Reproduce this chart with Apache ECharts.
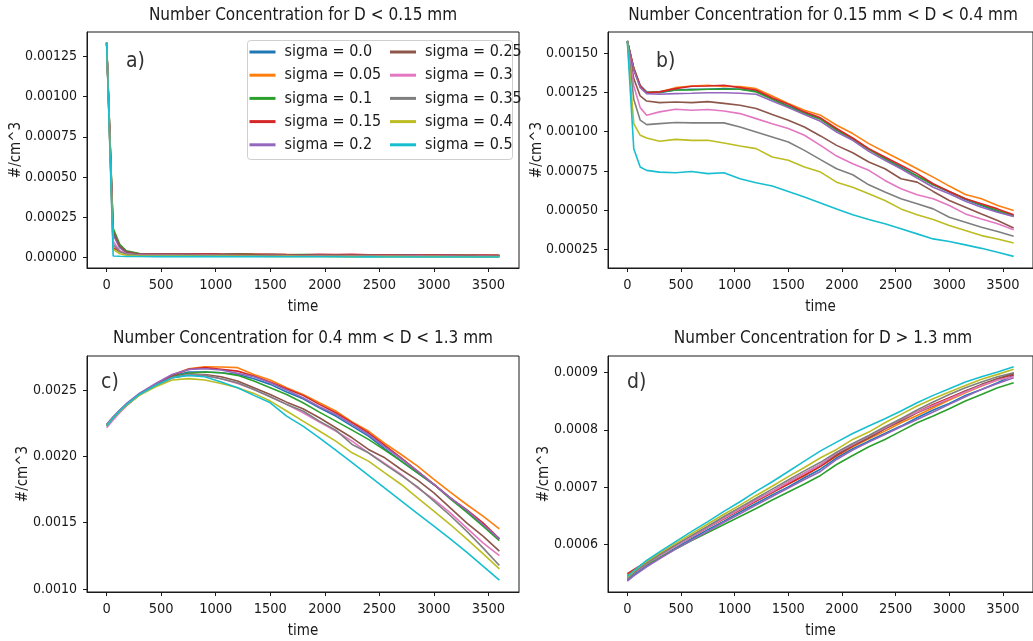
<!DOCTYPE html>
<html>
<head>
<meta charset="utf-8">
<script src="https://cdn.jsdelivr.net/npm/echarts@6/dist/echarts.min.js"></script>
<style>
  html, body { margin: 0; padding: 0; background: #fff; }
  #chart { width: 1033px; height: 641px; }
</style>
</head>
<body>
<div id="chart"></div>
<script>
// Time axis (s) shared by all four panels
const TIME = [0, 60, 120, 180, 300, 450, 600, 750, 900, 1050, 1200, 1350, 1500, 1650, 1800,
  1950, 2100, 2250, 2400, 2550, 2700, 2850, 3000, 3150, 3300, 3450, 3600];

const SIGMA_LABELS = ['sigma = 0.0', 'sigma = 0.05', 'sigma = 0.1', 'sigma = 0.15', 'sigma = 0.2',
  'sigma = 0.25', 'sigma = 0.3', 'sigma = 0.35', 'sigma = 0.4', 'sigma = 0.5'];

const TIME_TICKS = [0, 500, 1000, 1500, 2000, 2500, 3000, 3500];
const TICKS_A = [0, 0.00025, 0.0005, 0.00075, 0.001, 0.00125];
const TICKS_B = [0.00025, 0.0005, 0.00075, 0.001, 0.00125, 0.0015];
const TICKS_C = [0.001, 0.0015, 0.002, 0.0025];
const TICKS_D = [0.0006, 0.0007, 0.0008, 0.0009];

// Panel a) D < 0.15 mm
const a00 = [1.335e-3, 1.5e-4, 6.0e-5, 3.0e-5, 2.0e-5, 2.2e-5, 1.8e-5, 2.0e-5, 1.9e-5, 1.7e-5, 1.8e-5, 1.6e-5, 1.7e-5, 1.5e-5, 1.6e-5, 1.4e-5, 1.5e-5, 1.3e-5, 1.4e-5, 1.3e-5, 1.2e-5, 1.3e-5, 1.2e-5, 1.1e-5, 1.2e-5, 1.1e-5, 1.0e-5];
const a05 = [1.335e-3, 1.7e-4, 7.0e-5, 3.5e-5, 2.2e-5, 2.0e-5, 2.1e-5, 1.9e-5, 2.0e-5, 1.8e-5, 1.7e-5, 1.8e-5, 1.6e-5, 1.7e-5, 1.5e-5, 1.6e-5, 1.4e-5, 1.5e-5, 1.3e-5, 1.4e-5, 1.3e-5, 1.2e-5, 1.3e-5, 1.2e-5, 1.1e-5, 1.2e-5, 1.1e-5];
const a10 = [1.335e-3, 1.8e-4, 8.0e-5, 4.0e-5, 2.3e-5, 2.1e-5, 1.9e-5, 2.0e-5, 1.8e-5, 1.9e-5, 2.1e-5, 1.8e-5, 1.7e-5, 1.6e-5, 1.7e-5, 1.5e-5, 1.6e-5, 1.4e-5, 1.5e-5, 1.4e-5, 1.3e-5, 1.2e-5, 1.3e-5, 1.2e-5, 1.1e-5, 1.1e-5, 1.0e-5];
const a15 = [1.335e-3, 6.0e-5, 3.5e-5, 2.5e-5, 2.0e-5, 2.2e-5, 2.0e-5, 2.1e-5, 2.2e-5, 2.0e-5, 1.9e-5, 1.8e-5, 1.9e-5, 1.7e-5, 1.6e-5, 1.8e-5, 1.7e-5, 1.9e-5, 1.6e-5, 1.5e-5, 1.6e-5, 1.4e-5, 1.5e-5, 1.4e-5, 1.3e-5, 1.4e-5, 1.3e-5];
const a20 = [1.335e-3, 1.4e-4, 6.0e-5, 3.0e-5, 1.8e-5, 1.9e-5, 1.7e-5, 1.8e-5, 1.6e-5, 1.7e-5, 1.5e-5, 1.6e-5, 1.4e-5, 1.5e-5, 1.3e-5, 1.4e-5, 1.2e-5, 1.3e-5, 1.2e-5, 1.1e-5, 1.2e-5, 1.0e-5, 1.1e-5, 1.0e-5, 0.9e-5, 1.0e-5, 0.9e-5];
const a25 = [1.335e-3, 1.6e-4, 7.0e-5, 3.5e-5, 2.0e-5, 1.8e-5, 1.9e-5, 1.7e-5, 1.8e-5, 1.6e-5, 1.7e-5, 1.5e-5, 1.6e-5, 1.4e-5, 1.5e-5, 1.3e-5, 1.4e-5, 1.2e-5, 1.3e-5, 1.1e-5, 1.2e-5, 1.1e-5, 1.0e-5, 1.1e-5, 1.0e-5, 0.9e-5, 0.9e-5];
const a30 = [1.335e-3, 1.0e-4, 4.0e-5, 2.2e-5, 1.4e-5, 1.2e-5, 1.3e-5, 1.1e-5, 1.2e-5, 1.0e-5, 1.1e-5, 0.9e-5, 1.0e-5, 0.9e-5, 0.8e-5, 0.9e-5, 0.8e-5, 0.7e-5, 0.8e-5, 0.7e-5, 0.6e-5, 0.7e-5, 0.6e-5, 0.6e-5, 0.5e-5, 0.6e-5, 0.5e-5];
const a35 = [1.335e-3, 8.0e-5, 3.5e-5, 2.0e-5, 1.2e-5, 1.1e-5, 1.0e-5, 1.1e-5, 0.9e-5, 1.0e-5, 0.9e-5, 0.8e-5, 0.9e-5, 0.8e-5, 0.7e-5, 0.8e-5, 0.7e-5, 0.6e-5, 0.7e-5, 0.6e-5, 0.6e-5, 0.5e-5, 0.6e-5, 0.5e-5, 0.5e-5, 0.4e-5, 0.5e-5];
const a40 = [1.335e-3, 5.0e-5, 2.2e-5, 1.2e-5, 0.8e-5, 0.7e-5, 0.8e-5, 0.7e-5, 0.6e-5, 0.7e-5, 0.6e-5, 0.6e-5, 0.5e-5, 0.6e-5, 0.5e-5, 0.5e-5, 0.4e-5, 0.5e-5, 0.4e-5, 0.4e-5, 0.4e-5, 0.3e-5, 0.4e-5, 0.3e-5, 0.3e-5, 0.3e-5, 0.3e-5];
const a50 = [1.335e-3, 0.8e-5, 0.6e-5, 0.5e-5, 0.5e-5, 0.4e-5, 0.5e-5, 0.4e-5, 0.4e-5, 0.4e-5, 0.3e-5, 0.4e-5, 0.3e-5, 0.3e-5, 0.3e-5, 0.3e-5, 0.3e-5, 0.2e-5, 0.3e-5, 0.2e-5, 0.2e-5, 0.2e-5, 0.2e-5, 0.2e-5, 0.2e-5, 0.2e-5, 0.2e-5];

// Panel b) 0.15 mm < D < 0.4 mm
const b00 = [1.577e-3, 1.406e-3, 1.295e-3, 1.253e-3, 1.248e-3, 1.265e-3, 1.270e-3, 1.270e-3, 1.274e-3, 1.270e-3, 1.259e-3, 1.210e-3, 1.163e-3, 1.122e-3, 1.083e-3, 1.015e-3, 0.956e-3, 0.888e-3, 0.832e-3, 0.775e-3, 0.718e-3, 0.662e-3, 0.616e-3, 0.569e-3, 0.531e-3, 0.492e-3, 0.463e-3];
const b05 = [1.577e-3, 1.402e-3, 1.291e-3, 1.248e-3, 1.253e-3, 1.280e-3, 1.291e-3, 1.295e-3, 1.287e-3, 1.287e-3, 1.274e-3, 1.227e-3, 1.180e-3, 1.136e-3, 1.105e-3, 1.041e-3, 0.988e-3, 0.924e-3, 0.871e-3, 0.818e-3, 0.764e-3, 0.711e-3, 0.654e-3, 0.601e-3, 0.573e-3, 0.531e-3, 0.499e-3];
const b10 = [1.577e-3, 1.398e-3, 1.287e-3, 1.248e-3, 1.253e-3, 1.265e-3, 1.265e-3, 1.270e-3, 1.270e-3, 1.270e-3, 1.253e-3, 1.206e-3, 1.159e-3, 1.115e-3, 1.079e-3, 1.009e-3, 0.951e-3, 0.888e-3, 0.828e-3, 0.769e-3, 0.718e-3, 0.662e-3, 0.620e-3, 0.573e-3, 0.535e-3, 0.499e-3, 0.467e-3];
const b15 = [1.577e-3, 1.402e-3, 1.291e-3, 1.248e-3, 1.253e-3, 1.274e-3, 1.289e-3, 1.291e-3, 1.295e-3, 1.280e-3, 1.265e-3, 1.216e-3, 1.174e-3, 1.126e-3, 1.088e-3, 1.020e-3, 0.960e-3, 0.892e-3, 0.839e-3, 0.786e-3, 0.733e-3, 0.669e-3, 0.620e-3, 0.573e-3, 0.541e-3, 0.509e-3, 0.471e-3];
const b20 = [1.577e-3, 1.392e-3, 1.280e-3, 1.242e-3, 1.238e-3, 1.242e-3, 1.244e-3, 1.248e-3, 1.248e-3, 1.244e-3, 1.238e-3, 1.195e-3, 1.153e-3, 1.109e-3, 1.066e-3, 0.998e-3, 0.945e-3, 0.875e-3, 0.818e-3, 0.764e-3, 0.705e-3, 0.647e-3, 0.605e-3, 0.558e-3, 0.520e-3, 0.488e-3, 0.460e-3];
const b25 = [1.577e-3, 1.338e-3, 1.227e-3, 1.195e-3, 1.185e-3, 1.189e-3, 1.185e-3, 1.191e-3, 1.180e-3, 1.168e-3, 1.147e-3, 1.109e-3, 1.073e-3, 1.030e-3, 0.973e-3, 0.913e-3, 0.866e-3, 0.807e-3, 0.764e-3, 0.701e-3, 0.679e-3, 0.620e-3, 0.562e-3, 0.520e-3, 0.477e-3, 0.435e-3, 0.388e-3];
const b30 = [1.577e-3, 1.291e-3, 1.153e-3, 1.105e-3, 1.126e-3, 1.143e-3, 1.136e-3, 1.141e-3, 1.132e-3, 1.115e-3, 1.083e-3, 1.051e-3, 1.020e-3, 0.977e-3, 0.913e-3, 0.845e-3, 0.796e-3, 0.754e-3, 0.690e-3, 0.637e-3, 0.599e-3, 0.573e-3, 0.531e-3, 0.477e-3, 0.445e-3, 0.414e-3, 0.377e-3];
const b35 = [1.577e-3, 1.206e-3, 1.073e-3, 1.045e-3, 1.051e-3, 1.058e-3, 1.056e-3, 1.056e-3, 1.056e-3, 1.030e-3, 0.998e-3, 0.966e-3, 0.934e-3, 0.881e-3, 0.822e-3, 0.764e-3, 0.726e-3, 0.662e-3, 0.616e-3, 0.573e-3, 0.541e-3, 0.509e-3, 0.456e-3, 0.424e-3, 0.392e-3, 0.365e-3, 0.335e-3];
const b40 = [1.577e-3, 1.051e-3, 0.977e-3, 0.960e-3, 0.939e-3, 0.951e-3, 0.945e-3, 0.945e-3, 0.928e-3, 0.909e-3, 0.892e-3, 0.839e-3, 0.818e-3, 0.775e-3, 0.743e-3, 0.679e-3, 0.647e-3, 0.605e-3, 0.562e-3, 0.509e-3, 0.471e-3, 0.441e-3, 0.403e-3, 0.371e-3, 0.339e-3, 0.318e-3, 0.292e-3];
const b50 = [1.577e-3, 0.892e-3, 0.775e-3, 0.754e-3, 0.743e-3, 0.739e-3, 0.747e-3, 0.733e-3, 0.739e-3, 0.701e-3, 0.675e-3, 0.654e-3, 0.620e-3, 0.584e-3, 0.547e-3, 0.509e-3, 0.471e-3, 0.441e-3, 0.414e-3, 0.382e-3, 0.350e-3, 0.318e-3, 0.301e-3, 0.280e-3, 0.258e-3, 0.233e-3, 0.207e-3];

// Panel c) 0.4 mm < D < 1.3 mm
const c00 = [2.241e-3, 2.296e-3, 2.347e-3, 2.392e-3, 2.472e-3, 2.545e-3, 2.606e-3, 2.636e-3, 2.636e-3, 2.631e-3, 2.618e-3, 2.586e-3, 2.543e-3, 2.485e-3, 2.435e-3, 2.367e-3, 2.304e-3, 2.228e-3, 2.153e-3, 2.057e-3, 1.964e-3, 1.876e-3, 1.788e-3, 1.687e-3, 1.587e-3, 1.486e-3, 1.378e-3];
const c05 = [2.233e-3, 2.291e-3, 2.342e-3, 2.387e-3, 2.467e-3, 2.543e-3, 2.611e-3, 2.661e-3, 2.676e-3, 2.674e-3, 2.669e-3, 2.618e-3, 2.576e-3, 2.518e-3, 2.467e-3, 2.404e-3, 2.342e-3, 2.259e-3, 2.191e-3, 2.097e-3, 2.014e-3, 1.926e-3, 1.826e-3, 1.730e-3, 1.637e-3, 1.549e-3, 1.453e-3];
const c10 = [2.236e-3, 2.291e-3, 2.342e-3, 2.387e-3, 2.467e-3, 2.540e-3, 2.601e-3, 2.626e-3, 2.636e-3, 2.631e-3, 2.611e-3, 2.568e-3, 2.518e-3, 2.467e-3, 2.404e-3, 2.334e-3, 2.266e-3, 2.198e-3, 2.128e-3, 2.047e-3, 1.964e-3, 1.876e-3, 1.788e-3, 1.680e-3, 1.579e-3, 1.474e-3, 1.365e-3];
const c15 = [2.233e-3, 2.291e-3, 2.342e-3, 2.387e-3, 2.467e-3, 2.543e-3, 2.611e-3, 2.656e-3, 2.669e-3, 2.656e-3, 2.643e-3, 2.606e-3, 2.561e-3, 2.510e-3, 2.460e-3, 2.392e-3, 2.329e-3, 2.254e-3, 2.178e-3, 2.082e-3, 1.989e-3, 1.889e-3, 1.788e-3, 1.687e-3, 1.599e-3, 1.499e-3, 1.378e-3];
const c20 = [2.241e-3, 2.299e-3, 2.349e-3, 2.397e-3, 2.475e-3, 2.550e-3, 2.618e-3, 2.656e-3, 2.661e-3, 2.651e-3, 2.626e-3, 2.601e-3, 2.555e-3, 2.500e-3, 2.442e-3, 2.374e-3, 2.316e-3, 2.241e-3, 2.165e-3, 2.072e-3, 1.982e-3, 1.889e-3, 1.788e-3, 1.687e-3, 1.594e-3, 1.486e-3, 1.378e-3];
const c25 = [2.233e-3, 2.289e-3, 2.339e-3, 2.384e-3, 2.465e-3, 2.535e-3, 2.593e-3, 2.618e-3, 2.618e-3, 2.601e-3, 2.568e-3, 2.518e-3, 2.467e-3, 2.409e-3, 2.359e-3, 2.291e-3, 2.216e-3, 2.140e-3, 2.052e-3, 1.989e-3, 1.901e-3, 1.821e-3, 1.725e-3, 1.612e-3, 1.499e-3, 1.398e-3, 1.285e-3];
const c30 = [2.216e-3, 2.274e-3, 2.329e-3, 2.379e-3, 2.462e-3, 2.535e-3, 2.593e-3, 2.618e-3, 2.611e-3, 2.586e-3, 2.550e-3, 2.505e-3, 2.450e-3, 2.392e-3, 2.329e-3, 2.259e-3, 2.191e-3, 2.115e-3, 2.027e-3, 1.947e-3, 1.864e-3, 1.763e-3, 1.675e-3, 1.574e-3, 1.461e-3, 1.348e-3, 1.252e-3];
const c35 = [2.233e-3, 2.289e-3, 2.339e-3, 2.384e-3, 2.465e-3, 2.535e-3, 2.593e-3, 2.613e-3, 2.611e-3, 2.586e-3, 2.555e-3, 2.505e-3, 2.450e-3, 2.392e-3, 2.342e-3, 2.266e-3, 2.198e-3, 2.090e-3, 2.027e-3, 1.939e-3, 1.856e-3, 1.770e-3, 1.662e-3, 1.554e-3, 1.436e-3, 1.310e-3, 1.177e-3];
const c40 = [2.233e-3, 2.289e-3, 2.339e-3, 2.384e-3, 2.460e-3, 2.525e-3, 2.576e-3, 2.586e-3, 2.576e-3, 2.550e-3, 2.518e-3, 2.475e-3, 2.417e-3, 2.342e-3, 2.266e-3, 2.191e-3, 2.115e-3, 2.027e-3, 1.964e-3, 1.876e-3, 1.788e-3, 1.687e-3, 1.587e-3, 1.486e-3, 1.378e-3, 1.267e-3, 1.152e-3];
const c50 = [2.228e-3, 2.289e-3, 2.342e-3, 2.389e-3, 2.467e-3, 2.535e-3, 2.593e-3, 2.611e-3, 2.601e-3, 2.561e-3, 2.518e-3, 2.460e-3, 2.404e-3, 2.304e-3, 2.228e-3, 2.140e-3, 2.047e-3, 1.952e-3, 1.856e-3, 1.760e-3, 1.665e-3, 1.569e-3, 1.474e-3, 1.378e-3, 1.277e-3, 1.172e-3, 1.066e-3];

// Panel d) D > 1.3 mm
const d00 = [5.37e-4, 5.46e-4, 5.54e-4, 5.62e-4, 5.76e-4, 5.93e-4, 6.09e-4, 6.25e-4, 6.40e-4, 6.56e-4, 6.71e-4, 6.86e-4, 7.00e-4, 7.16e-4, 7.31e-4, 7.509e-4, 7.667e-4, 7.802e-4, 7.936e-4, 8.065e-4, 8.211e-4, 8.346e-4, 8.463e-4, 8.603e-4, 8.708e-4, 8.825e-4, 8.954e-4];
const d05 = [5.46e-4, 5.54e-4, 5.61e-4, 5.68e-4, 5.81e-4, 5.97e-4, 6.13e-4, 6.29e-4, 6.44e-4, 6.60e-4, 6.75e-4, 6.90e-4, 7.05e-4, 7.20e-4, 7.36e-4, 7.539e-4, 7.702e-4, 7.843e-4, 7.977e-4, 8.123e-4, 8.252e-4, 8.387e-4, 8.521e-4, 8.650e-4, 8.767e-4, 8.872e-4, 8.989e-4];
const d10 = [5.44e-4, 5.51e-4, 5.58e-4, 5.64e-4, 5.76e-4, 5.91e-4, 6.06e-4, 6.20e-4, 6.34e-4, 6.48e-4, 6.62e-4, 6.77e-4, 6.91e-4, 7.05e-4, 7.20e-4, 7.392e-4, 7.550e-4, 7.702e-4, 7.831e-4, 7.977e-4, 8.123e-4, 8.240e-4, 8.369e-4, 8.504e-4, 8.620e-4, 8.737e-4, 8.825e-4];
const d15 = [5.48e-4, 5.55e-4, 5.62e-4, 5.69e-4, 5.82e-4, 5.98e-4, 6.13e-4, 6.29e-4, 6.44e-4, 6.60e-4, 6.75e-4, 6.90e-4, 7.05e-4, 7.20e-4, 7.36e-4, 7.550e-4, 7.714e-4, 7.860e-4, 8.018e-4, 8.170e-4, 8.311e-4, 8.445e-4, 8.562e-4, 8.679e-4, 8.778e-4, 8.895e-4, 8.971e-4];
const d20 = [5.35e-4, 5.44e-4, 5.52e-4, 5.60e-4, 5.74e-4, 5.91e-4, 6.07e-4, 6.22e-4, 6.38e-4, 6.53e-4, 6.68e-4, 6.83e-4, 6.98e-4, 7.13e-4, 7.27e-4, 7.480e-4, 7.644e-4, 7.784e-4, 7.919e-4, 8.053e-4, 8.182e-4, 8.311e-4, 8.445e-4, 8.580e-4, 8.708e-4, 8.813e-4, 8.913e-4];
const d25 = [5.41e-4, 5.50e-4, 5.58e-4, 5.66e-4, 5.80e-4, 5.97e-4, 6.13e-4, 6.29e-4, 6.45e-4, 6.61e-4, 6.77e-4, 6.92e-4, 7.08e-4, 7.24e-4, 7.39e-4, 7.568e-4, 7.726e-4, 7.860e-4, 8.018e-4, 8.153e-4, 8.299e-4, 8.416e-4, 8.544e-4, 8.679e-4, 8.796e-4, 8.895e-4, 8.989e-4];
const d30 = [5.40e-4, 5.49e-4, 5.57e-4, 5.65e-4, 5.79e-4, 5.96e-4, 6.13e-4, 6.29e-4, 6.45e-4, 6.61e-4, 6.77e-4, 6.92e-4, 7.08e-4, 7.24e-4, 7.39e-4, 7.597e-4, 7.743e-4, 7.889e-4, 8.036e-4, 8.182e-4, 8.311e-4, 8.428e-4, 8.544e-4, 8.661e-4, 8.778e-4, 8.872e-4, 8.930e-4];
const d35 = [5.39e-4, 5.49e-4, 5.58e-4, 5.66e-4, 5.81e-4, 5.98e-4, 6.15e-4, 6.31e-4, 6.48e-4, 6.64e-4, 6.80e-4, 6.96e-4, 7.12e-4, 7.28e-4, 7.43e-4, 7.609e-4, 7.761e-4, 7.901e-4, 8.053e-4, 8.194e-4, 8.346e-4, 8.486e-4, 8.620e-4, 8.737e-4, 8.837e-4, 8.930e-4, 9.001e-4];
const d40 = [5.42e-4, 5.52e-4, 5.61e-4, 5.69e-4, 5.84e-4, 6.01e-4, 6.18e-4, 6.35e-4, 6.52e-4, 6.68e-4, 6.85e-4, 7.01e-4, 7.18e-4, 7.34e-4, 7.51e-4, 7.656e-4, 7.831e-4, 7.960e-4, 8.123e-4, 8.270e-4, 8.416e-4, 8.544e-4, 8.661e-4, 8.778e-4, 8.884e-4, 8.971e-4, 9.059e-4];
const d50 = [5.43e-4, 5.53e-4, 5.62e-4, 5.71e-4, 5.86e-4, 6.04e-4, 6.22e-4, 6.39e-4, 6.57e-4, 6.74e-4, 6.92e-4, 7.09e-4, 7.27e-4, 7.45e-4, 7.63e-4, 7.784e-4, 7.936e-4, 8.065e-4, 8.194e-4, 8.328e-4, 8.474e-4, 8.603e-4, 8.720e-4, 8.837e-4, 8.930e-4, 9.012e-4, 9.106e-4];

const COLORS = ['#1f77b4', '#ff7f0e', '#2ca02c', '#d62728', '#9467bd',
  '#8c564b', '#e377c2', '#7f7f7f', '#bcbd22', '#17becf'];

const FONT = '"DejaVu Sans Condensed", "Liberation Sans Narrow", sans-serif';
const INK = '#1a1a1a';

const panels = [
  { title: 'Number Concentration for D < 0.15 mm', tag: 'a)',
    grid: { left: 87, top: 32, width: 432, height: 236 },
    yMin: -0.0000668, yMax: 0.001402, ticks: TICKS_A, digits: 5, nameGap: 63,
    titleX: 303, titleY: 16, tagX: 126, tagY: 63,
    series: [a00, a05, a10, a15, a20, a25, a30, a35, a40, a50] },
  { title: 'Number Concentration for 0.15 mm < D < 0.4 mm', tag: 'b)',
    grid: { left: 608, top: 32, width: 431, height: 236 },
    yMin: 0.000133, yMax: 0.001634, ticks: TICKS_B, digits: 5, nameGap: 63,
    titleX: 823, titleY: 16, tagX: 656, tagY: 63,
    series: [b00, b05, b10, b15, b20, b25, b30, b35, b40, b50] },
  { title: 'Number Concentration for 0.4 mm < D < 1.3 mm', tag: 'c)',
    grid: { left: 87, top: 356, width: 432, height: 236 },
    yMin: 0.000977, yMax: 0.002757, ticks: TICKS_C, digits: 4, nameGap: 56,
    titleX: 303, titleY: 339, tagX: 101, tagY: 384,
    series: [c00, c05, c10, c15, c20, c25, c30, c35, c40, c50] },
  { title: 'Number Concentration for D > 1.3 mm', tag: 'd)',
    grid: { left: 608, top: 356, width: 431, height: 236 },
    yMin: 0.0005158, yMax: 0.0009293, ticks: TICKS_D, digits: 4, nameGap: 56,
    titleX: 823, titleY: 339, tagX: 627, tagY: 384,
    series: [d00, d05, d10, d15, d20, d25, d30, d35, d40, d50] }
];

const grids = [], xAxes = [], yAxes = [], series = [], titles = [], graphics = [];

panels.forEach((p, i) => {
  grids.push(Object.assign({ show: true, borderColor: INK, borderWidth: 1, backgroundColor: '#fff' }, p.grid));

  titles.push({
    text: p.title, left: p.titleX, top: p.titleY - 9, textAlign: 'center', padding: 0,
    textStyle: { fontFamily: FONT, fontSize: 17, fontWeight: 'normal', color: INK }
  });

  xAxes.push({
    type: 'value', gridIndex: i, min: -180, max: 3780,
    axisLine: { show: true, onZero: false, lineStyle: { color: INK, width: 1 } },
    axisTick: { show: true, length: 4, customValues: TIME_TICKS, lineStyle: { color: INK } },
    axisLabel: {
      customValues: TIME_TICKS, margin: 10, fontFamily: FONT, fontSize: 14.5, color: INK,
      formatter: v => String(v)
    },
    splitLine: { show: false },
    name: 'time', nameLocation: 'middle', nameGap: 32, nameMoveOverlap: false,
    nameTextStyle: { fontFamily: FONT, fontSize: 15, color: INK }
  });

  yAxes.push({
    type: 'value', gridIndex: i, min: p.yMin, max: p.yMax,
    axisLine: { show: true, onZero: false, lineStyle: { color: INK, width: 1 } },
    axisTick: { show: true, length: 4, customValues: p.ticks, lineStyle: { color: INK } },
    axisLabel: {
      customValues: p.ticks, margin: 10, fontFamily: FONT, fontSize: 14, color: INK,
      formatter: v => v.toFixed(p.digits)
    },
    splitLine: { show: false },
    name: '#/cm^3', nameLocation: 'middle', nameGap: p.nameGap, nameMoveOverlap: false,
    nameTextStyle: { fontFamily: FONT, fontSize: 15, color: INK }
  });

  p.series.forEach((vals, k) => {
    series.push({
      type: 'line', name: SIGMA_LABELS[k], xAxisIndex: i, yAxisIndex: i,
      data: TIME.map((t, j) => [t, vals[j]]),
      showSymbol: false, symbol: 'none', animation: false, silent: true,
      lineStyle: { color: COLORS[k], width: 1.6 },
      itemStyle: { color: COLORS[k] }
    });
  });

  graphics.push({
    type: 'text', left: p.tagX, top: p.tagY - 12, z: 20,
    style: { text: p.tag, fontFamily: FONT, fontSize: 21, fill: '#333' }
  });
});

// legend frame for panel a)
graphics.push({
  type: 'rect', z: 15,
  shape: { x: 247.5, y: 40.5, width: 265, height: 119, r: 3 },
  style: { fill: 'rgba(255,255,255,0.8)', stroke: '#cfcfcf', lineWidth: 1 }
});

const legendBase = {
  orient: 'vertical', top: 43, padding: 0, itemGap: 5.2, z: 30,
  icon: 'rect', itemWidth: 26, itemHeight: 3,
  textStyle: { fontFamily: FONT, fontSize: 16, color: INK, lineHeight: 18, padding: [0, 0, 0, 4] },
  selectedMode: false
};

const chart = echarts.init(document.getElementById('chart'), null, { renderer: 'canvas' });
chart.setOption({
  backgroundColor: '#fff',
  animation: false,
  title: titles,
  grid: grids,
  xAxis: xAxes,
  yAxis: yAxes,
  legend: [
    Object.assign({}, legendBase, { left: 249.5, data: SIGMA_LABELS.slice(0, 5) }),
    Object.assign({}, legendBase, { left: 390, data: SIGMA_LABELS.slice(5) })
  ],
  graphic: graphics,
  series: series
});
</script>
</body>
</html>
